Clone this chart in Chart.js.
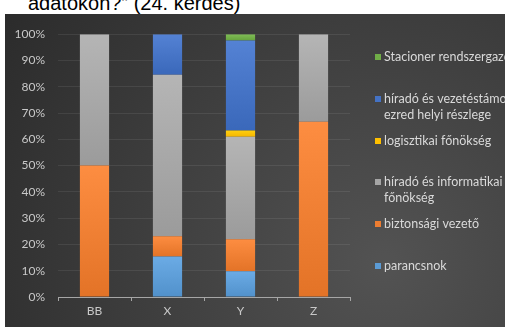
<!DOCTYPE html>
<html>
<head>
<meta charset="utf-8">
<script src="https://cdn.jsdelivr.net/npm/chart.js@4/dist/chart.umd.min.js"></script>
<style>
  html, body { margin: 0; padding: 0; background: #fff; width: 505px; height: 327px; overflow: hidden; }
  #caption { position: absolute; left: 0; top: 0; width: 505px; height: 14px; overflow: hidden; }
  #caption span { position: absolute; left: 28px; top: -7px; font: 20px/20px "Liberation Sans", Arial, sans-serif; color: #000; white-space: nowrap; }
  #wrap { position: absolute; left: 5px; top: 14px; width: 500px; height: 313px; }
</style>
</head>
<body>
<div id="caption"><span>adatokon?” (24. kérdés)</span></div>
<div id="wrap"><canvas id="myChart" width="500" height="313"></canvas></div>
<script>
const categories = ["BB", "X", "Y", "Z"];

// share of answers per group, in percent (stacked bottom to top)
const parancsnok = [0, 15.4, 9.8, 0];
const biztonsagi = [50, 7.7, 12.2, 66.7];
const hiradoInf = [50, 61.5, 39.0, 33.3];
const logisztika = [0, 0, 2.4, 0];
const hiradoVez = [0, 15.4, 34.2, 0];
const stacioner = [0, 0, 2.4, 0];

const seriesNames = [
  ["parancsnok"],
  ["biztonsági vezető"],
  ["híradó és informatikai", "főnökség"],
  ["logisztikai főnökség"],
  ["híradó és vezetéstámogató", "ezred helyi részlege"],
  ["Stacioner rendszergazda"]
];
const seriesColors = ["#5b9bd5", "#ed7d31", "#a5a5a5", "#ffc000", "#4472c4", "#70ad47"];
const series = [parancsnok, biztonsagi, hiradoInf, logisztika, hiradoVez, stacioner];

function shade(hex, amt) {
  let n = parseInt(hex.slice(1), 16);
  let r = Math.min(255, Math.max(0, (n >> 16) + amt));
  let g = Math.min(255, Math.max(0, ((n >> 8) & 255) + amt));
  let b = Math.min(255, Math.max(0, (n & 255) + amt));
  return `rgb(${r},${g},${b})`;
}

// each segment is a little lighter at its top edge
function segmentFill(ctx) {
  const chart = ctx.chart;
  const y = chart.scales.y;
  const base = seriesColors[ctx.datasetIndex];
  if (!y || ctx.type !== "data") return base;
  let start = 0;
  for (let d = 0; d < ctx.datasetIndex; d++) start += series[d][ctx.dataIndex];
  const end = start + series[ctx.datasetIndex][ctx.dataIndex];
  const top = y.getPixelForValue(end);
  const bottom = y.getPixelForValue(start);
  if (!isFinite(top) || !isFinite(bottom) || bottom - top < 1) return base;
  const g = chart.ctx.createLinearGradient(0, top, 0, bottom);
  g.addColorStop(0, shade(base, 16));
  g.addColorStop(1, shade(base, -10));
  return g;
}

const backdrop = {
  id: "backdrop",
  beforeDraw(chart) {
    const c = chart.ctx;
    const w = chart.width, h = chart.height;
    const g = c.createRadialGradient(380, 250, 10, 380, 250, 470);
    g.addColorStop(0, "#525252");
    g.addColorStop(1, "#2a2a2a");
    c.save();
    c.fillStyle = g;
    c.fillRect(0, 0, w, h);
    c.restore();
  }
};

const sideLegend = {
  id: "sideLegend",
  afterDraw(chart) {
    const c = chart.ctx;
    c.save();
    c.font = "12.5px Lato";
    c.textBaseline = "middle";
    c.textAlign = "left";
    for (let i = 0; i < series.length; i++) {
      const d = series.length - 1 - i;
      const y = 43 + i * 41.8;
      c.fillStyle = seriesColors[d];
      c.fillRect(370, Math.round(y) - 3, 6, 6);
      c.fillStyle = "#d9d9d9";
      seriesNames[d].forEach((line, k) => c.fillText(line, 379, y + k * 16));
    }
    c.restore();
  }
};

const myChart = new Chart(document.getElementById("myChart"), {
  type: "bar",
  data: {
    labels: categories,
    datasets: series.map((values, i) => ({
      label: seriesNames[i].join(" "),
      data: values,
      backgroundColor: segmentFill,
      borderWidth: 0,
      barPercentage: 0.4,
      categoryPercentage: 1
    }))
  },
  options: {
    responsive: false,
    animation: false,
    layout: { padding: { left: 0, top: 8, right: 155, bottom: 0 } },
    plugins: { legend: { display: false }, tooltip: { enabled: false } },
    scales: {
      x: {
        stacked: true,
        afterFit: (s) => { s.height = 30; },
        grid: { drawOnChartArea: false, drawTicks: true, tickLength: 4, color: "#a6a6a6", offset: true },
        border: { color: "#a6a6a6", width: 1 },
        ticks: { color: "#c8c8c8", font: { family: "Lato", size: 12 }, padding: 3 }
      },
      y: {
        stacked: true,
        min: 0,
        max: 100,
        afterFit: (s) => { s.width = 53; },
        grid: { color: "rgba(255,255,255,0.08)", drawTicks: false },
        border: { display: false },
        ticks: {
          stepSize: 10,
          color: "#c8c8c8",
          font: { family: "Lato", size: 12 },
          padding: 13,
          callback: (v) => v + "%"
        }
      }
    }
  },
  plugins: [backdrop, sideLegend]
});
</script>
</body>
</html>
